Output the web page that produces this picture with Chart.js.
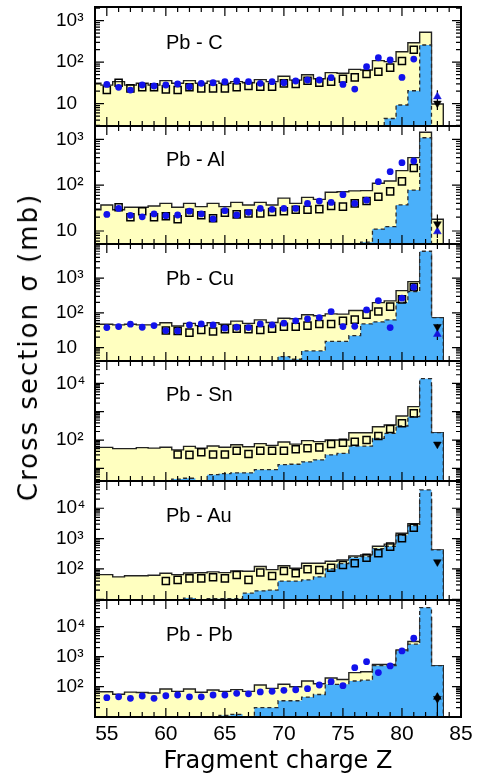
<!DOCTYPE html>
<html><head><meta charset="utf-8">
<script src="https://cdn.jsdelivr.net/npm/chart.js@4.4.1/dist/chart.umd.min.js"></script>
<style>
html,body{margin:0;padding:0;background:#fff;width:479px;height:779px;overflow:hidden}
canvas{position:absolute;left:0}
.lbl{position:absolute;left:166px;font-family:"Liberation Sans",Arial,sans-serif;font-size:20px;line-height:20px;color:#000;white-space:nowrap;z-index:5}
#ytitle{position:absolute;left:28px;top:347px;font-family:"DejaVu Sans",sans-serif;font-size:26px;letter-spacing:2px;white-space:nowrap;transform:translate(-50%,-50%) rotate(-90deg);z-index:5}
</style></head><body>
<div id="ytitle">Cross section σ (mb)</div>
<script>
// ---------- data ----------
const Z_BINS = [54,55,56,57,58,59,60,61,62,63,64,65,66,67,68,69,70,71,72,73,74,75,76,77,78,79,80,81,82,83];
const Z_PTS  = [55,56,57,58,59,60,61,62,63,64,65,66,67,68,69,70,71,72,73,74,75,76,77,78,79,80,81];
const Z_TRI  = 83;
const X_TICKS = [55,60,65,70,75,80,85];
const PANEL_NAMES = ["Pb - C","Pb - Al","Pb - Cu","Pb - Sn","Pb - Au","Pb - Pb"];
const Y_MIN = [2.9, 5.2, 4.1, 3.6, 9.5, 9.8];
const Y_MAX = [2140, 1950, 9700, 61000, 79000, 77000];
const Y_TICKS = [[10,100,1000],[10,100,1000],[10,100,1000],[100,10000],[100,1000,10000],[100,1000,10000]];
const Y_LABELS = {10:"10",100:"10²",1000:"10³",10000:"10⁴"};

// Pb - C
const yellowC = [31,28,34,28,31,28,36,31,36,31,35,31,34,32,38,34,46,37,50,40,56,54,67,65,109,103,179,295,525,9.8];
const blueC   = [null,null,null,null,null,null,null,null,null,null,null,null,null,null,null,null,null,null,null,null,null,null,null,null,null,4.4,9.3,20.5,260,null];
const squaresC= [21.3,32,23.4,24.8,24.8,22.1,21.3,24.8,23.4,23.4,23.4,24.8,26.7,25.7,25.7,30.9,29.8,35.8,32,33.9,40,43,51.8,59,74,107,200];
const dotsC   = [29.2,24.8,21.3,28.2,26.7,28.2,29.8,25.7,30.9,32,33.9,35.2,33.9,30.9,33.9,32,35.2,37.2,37.2,42.4,29.2,22.5,78,128,113,43,119];
const triC    = {up:14.8, down:10.2, lo:7, hi:21};

// Pb - Al
const yellowAl = [29,37,29,33,33,35,40,33,40,34,40,34,42,37,42,37,52,40,54,49,70,72,75,76,110,123,207,398,1420,18];
const blueAl   = [null,null,null,null,null,null,null,null,null,null,null,null,null,null,null,null,null,null,null,null,null,null,null,5.7,11,12.4,37,78,1080,null];
const squaresAl= [null,33,20,27,20,21,18,25,22,19,25,23,24,24,26,27,29,29,30,35,34,40,45,56,73,121,237];
const dotsAl   = [23,31,22,20.4,23.5,21.6,22.3,27,23.5,18.3,27.7,22.3,25.5,31,29.7,31,31,40,45,42,62,40,47,119,197,309,336];
const triAl    = {up:9.7, down:14.2, lo:7, hi:23};

// Pb - Cu
const yellowCu = [47,47,45,47,45,45,52,42,50,43,52,47,58,50,63,53,70,68,88,83,94,92,117,117,198,222,440,798,5000,73];
const blueCu   = [null,null,null,null,null,null,null,null,null,null,null,null,null,null,null,null,5.5,4.6,8,8,15,15,22,48,55,63,200,411,6000,73];
const squaresCu= [null,null,null,null,null,31,30,27,32.4,29,34,35,34,32,35,40,40,43,48,48,59,64,88,110,152,245,560];
const dotsCu   = [37.7,40.3,47.2,38.5,43,30.9,30.3,45,48.2,45,36.2,38.5,37.7,48.2,45,50.5,58.9,67.3,73.3,109,40.3,41,122,226,37.7,265,551];
const triCu    = {up:24.3, down:40, lo:16.6, hi:47};

// Pb - Sn
const yellowSn = [55,55,50,50,54,52,56,45,60,52,62,56,68,58,75,65,85,72,95,88,100,100,181,181,295,339,703,1500,8000,181];
const blueSn   = [null,null,null,null,null,null,null,4.2,4.5,null,6,6.5,7,7,9,9,13.5,14,17,20,30,34,61,61,115,172,312,665,14500,181];
const squaresSn= [null,null,null,null,null,null,31,30,37,31,31,42,32,42,42,42,47,51,55,72,80,87,100,138,244,390,870];
const dotsSn   = [];
const triSn    = {up:null, down:71, lo:null, hi:null};

// Pb - Au
const yellowAu = [65,65,55,60,60,62,72,65,74,75,80,76,86,84,120,95,128,105,154,155,180,198,268,290,560,660,1500,3100,20000,423];
const blueAu   = [null,null,null,null,null,null,null,null,11,null,10.5,10.5,10.5,16,19,20,40,40,44,55,100,150,240,255,470,560,1300,2700,40000,423];
const squaresAu= [null,null,null,null,null,40,43.6,49,49,53.6,49,63,43.6,76,59,86,72,98,93,110,135,154,234,329,543,1030,2290];
const dotsAu   = [];
const triAu    = {up:null, down:170, lo:null, hi:null};

// Pb - Pb
const yellowPb = [68,68,56,66,64,62,84,70,84,65,78,70,80,70,114,88,120,100,155,125,195,173,295,316,550,550,1660,3200,20000,500];
const bluePb   = [null,null,null,null,null,null,null,null,null,null,null,11,12,null,20,20,34,34,45,55,120,120,155,165,500,500,1550,2600,43000,500];
const squaresPb= [];
const dotsPb   = [43,46,41,49,41,50,53,46,46,53,53,60,58,67,70,76,79,86,114,147,108,430,680,295,490,1550,4100];
const triPb    = {up:45, down:40, lo:8, hi:60};

const YELLOW = [yellowC, yellowAl, yellowCu, yellowSn, yellowAu, yellowPb];
const BLUE   = [blueC, blueAl, blueCu, blueSn, blueAu, bluePb];
const SQUARES= [squaresC, squaresAl, squaresCu, squaresSn, squaresAu, squaresPb];
const DOTS   = [dotsC, dotsAl, dotsCu, dotsSn, dotsAu, dotsPb];
const TRI    = [triC, triAl, triCu, triSn, triAu, triPb];

// ---------- layout ----------
const PANEL_TOP = [7,126,244,361,481,600];
const PANEL_BOT = [126,244,361,481,600,717];
const LABEL_TOP = [32,149,268,383.5,505,623.5];

const C_YELLOW = '#ffffc0';
const C_BLUE = 'rgb(74,176,250)';
const C_DOT = 'rgb(18,18,235)';

function histPoints(vals, floor){
  let first = vals.findIndex(v => v != null);
  let last = -1; vals.forEach((v,i)=>{ if (v != null) last = i; });
  const pts = [];
  if (first < 0) return pts;
  pts.push({x: Z_BINS[first]-0.5, y: floor});
  for (let i = first; i <= last; i++){
    const v = vals[i] == null ? floor : vals[i];
    pts.push({x: Z_BINS[i]-0.5, y: v});
    pts.push({x: Z_BINS[i]+0.5, y: v});
  }
  pts.push({x: Z_BINS[last]+0.5, y: floor});
  return pts;
}
function pointData(vals){
  return Z_PTS.map((z,i)=>({x:z, y: vals[i]})).filter(p => p.y != null);
}

const framePlugin = {
  id: 'frame',
  afterDraw(chart){
    const {ctx, chartArea: a, scales: {x, y}} = chart;
    ctx.save();
    ctx.strokeStyle = '#000';
    ctx.lineWidth = 1.2;
    ctx.beginPath();
    for (let z = Math.ceil(x.min); z <= x.max; z++){
      const px = x.getPixelForValue(z);
      const len = z % 5 === 0 ? 9 : 5;
      ctx.moveTo(px, a.top); ctx.lineTo(px, a.top + len);
      ctx.moveTo(px, a.bottom); ctx.lineTo(px, a.bottom - len);
    }
    const e0 = Math.floor(Math.log10(y.min)), e1 = Math.ceil(Math.log10(y.max));
    for (let e = e0; e <= e1; e++){
      for (let k = 1; k <= 9; k++){
        const v = k * Math.pow(10, e);
        if (v < y.min || v > y.max) continue;
        const py = y.getPixelForValue(v);
        const len = k === 1 ? 9 : 5;
        ctx.moveTo(a.left, py); ctx.lineTo(a.left + len, py);
        ctx.moveTo(a.right, py); ctx.lineTo(a.right - len, py);
      }
    }
    ctx.stroke();
    ctx.lineWidth = 2;
    ctx.strokeRect(a.left, a.top, a.right - a.left, a.bottom - a.top);
    ctx.restore();
  }
};

for (let p = 0; p < 6; p++){
  const isLast = p === 5;
  const padT = 12, padB = isLast ? 0 : 12;
  const axisH = isLast ? 62 : 0;
  const top = PANEL_TOP[p] - padT;
  const height = (PANEL_BOT[p] - PANEL_TOP[p]) + padT + padB + axisH;
  const cv = document.createElement('canvas');
  cv.width = 479; cv.height = height;
  cv.style.top = top + 'px';
  cv.style.width = '479px'; cv.style.height = height + 'px';
  document.body.appendChild(cv);

  const lbl = document.createElement('div');
  lbl.className = 'lbl';
  lbl.style.top = LABEL_TOP[p] + 'px';
  lbl.textContent = PANEL_NAMES[p];
  document.body.appendChild(lbl);

  const yMin = Y_MIN[p], yMax = Y_MAX[p];
  const tri = TRI[p];
  const datasets = [
    { data: histPoints(YELLOW[p], yMin), borderColor: '#222', borderWidth: 1.4, backgroundColor: C_YELLOW,
      fill: 'start', pointRadius: 0, tension: 0, order: 6 },
    { data: histPoints(BLUE[p], yMin), borderColor: '#2a2a2a', borderWidth: 1.3, borderDash: [4,3], backgroundColor: C_BLUE,
      fill: 'start', pointRadius: 0, tension: 0, order: 5 },
    { data: pointData(SQUARES[p]), showLine: false, pointStyle: 'rect', pointRadius: 5,
      pointBorderColor: '#000', pointBackgroundColor: 'rgba(0,0,0,0)', pointBorderWidth: 1.5, order: 4 },
    { data: pointData(DOTS[p]), showLine: false, pointStyle: 'circle', pointRadius: 3.4,
      pointBorderColor: C_DOT, pointBackgroundColor: C_DOT, pointBorderWidth: 0, order: 3 }
  ];
  if (tri.lo != null){
    datasets.push({ data: [{x: Z_TRI, y: tri.lo},{x: Z_TRI, y: tri.hi}], borderColor: '#000', borderWidth: 1.2,
      pointRadius: 0, order: 2 });
  }
  if (tri.up != null){
    datasets.push({ data: [{x: Z_TRI, y: tri.up}], showLine: false, pointStyle: 'triangle', pointRadius: 4.5,
      pointBackgroundColor: p === 5 ? '#000' : 'rgb(20,20,220)', pointBorderColor: p === 5 ? '#000' : 'rgb(20,20,220)', pointBorderWidth: 0.5, order: 1 });
  }
  if (tri.down != null){
    datasets.push({ data: [{x: Z_TRI, y: tri.down}], showLine: false, pointStyle: 'triangle', pointRotation: 180, pointRadius: 4.5,
      pointBackgroundColor: '#000', pointBorderColor: '#000', pointBorderWidth: 0.5, order: 0 });
  }

  const yTicks = Y_TICKS[p];
  new Chart(cv, {
    type: 'line',
    data: { datasets },
    options: {
      responsive: false, animation: false, devicePixelRatio: 1, events: [],
      layout: { padding: { left: 56, right: 18, top: padT, bottom: padB } },
      plugins: { legend: { display: false }, tooltip: { enabled: false } },
      scales: {
        x: {
          type: 'linear', min: 54, max: 85, bounds: 'data', display: isLast,
          grid: { display: false, drawTicks: false }, border: { display: false },
          ticks: { color: '#000', font: { family: 'Liberation Sans', size: 21 }, padding: 5, maxRotation: 0, autoSkip: false },
          afterBuildTicks: s => { s.ticks = X_TICKS.map(v => ({ value: v })); },
          afterFit: s => { if (isLast) s.height = axisH; },
          title: { display: isLast, text: 'Fragment charge Z', color: '#000',
                   font: { family: 'DejaVu Sans', size: 24 }, padding: { top: 0, bottom: 3 } }
        },
        y: {
          type: 'logarithmic', min: yMin, max: yMax, bounds: 'data',
          grid: { display: false, drawTicks: false }, border: { display: false },
          ticks: { crossAlign: 'far', padding: 0, autoSkip: false, color: '#000',
                   font: { family: 'Liberation Sans', size: 19 },
                   callback: v => (Y_LABELS[v] !== undefined ? Y_LABELS[v] : '') },
          afterBuildTicks: s => { s.ticks = yTicks.map(v => ({ value: v })); },
          afterFit: s => { s.width = 39; }
        }
      }
    },
    plugins: [framePlugin]
  });
}
</script>
</body></html>
